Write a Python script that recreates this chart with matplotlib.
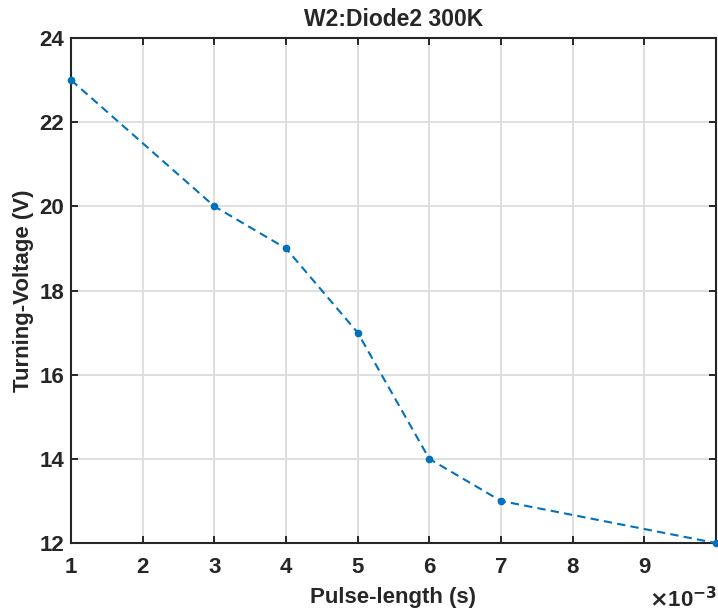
import numpy as np
import matplotlib.pyplot as plt

# pulse length in ms (axis shows x10^-3 s), turning voltage in V
pulse_ms = [1, 3, 4, 5, 6, 7, 10]
voltage = [23, 20, 19, 17, 14, 13, 12]
xticks = [1, 2, 3, 4, 5, 6, 7, 8, 9]
yticks = [12, 14, 16, 18, 20, 22, 24]

plt.rcParams['font.family'] = ['Liberation Sans', 'DejaVu Sans']
plt.rcParams['font.weight'] = 'bold'
dark = '#262626'

fig = plt.figure(figsize=(7.18, 6.14), dpi=100)
ax = fig.add_axes([0.099, 0.1156, 0.898, 0.8225])

x = np.array(pulse_ms) * 1e-3
ax.plot(x, voltage, linestyle='--', dashes=(4, 2.5), color='#0072BD', marker='o',
        markersize=4.5, linewidth=1.5, clip_on=False, zorder=3)

ax.set_xlim(1e-3, 10e-3)
ax.set_ylim(12, 24)
ax.set_xticks(np.array(xticks) * 1e-3)
ax.set_xticklabels([str(t) for t in xticks])
ax.set_yticks(yticks)
ax.set_yticklabels([str(t) for t in yticks])

ax.grid(True, color='#dcdcdc', linewidth=1.3)
ax.set_axisbelow(True)
for s in ax.spines.values():
    s.set_color(dark)
    s.set_linewidth(1.5)
ax.tick_params(direction='in', length=5, width=1.4, color=dark, labelsize=16,
               labelcolor=dark, top=True, right=True)
ax.tick_params(axis='x', pad=10)
ax.tick_params(axis='y', pad=5)

ax.set_xlabel('Pulse-length (s)', fontsize=16, fontweight='bold', color=dark)
ax.xaxis.label.set_va('center')
ax.xaxis.set_label_coords(0.5, -0.107)
ax.set_ylabel('Turning-Voltage (V)', fontsize=16, fontweight='bold', color=dark)
ax.yaxis.label.set_va('center')
ax.yaxis.set_label_coords(-0.074, 0.5)
ax.set_title('W2:Diode2 300K', fontsize=16.5, fontweight='bold', color=dark, pad=9)
fig.text(717 / 718, 1 - 612 / 614, r'$\times$10$^{\mathbf{-3}}$', fontsize=16,
         fontweight='bold', color=dark, ha='right', va='bottom')

fig.savefig('out.png', dpi=100)
